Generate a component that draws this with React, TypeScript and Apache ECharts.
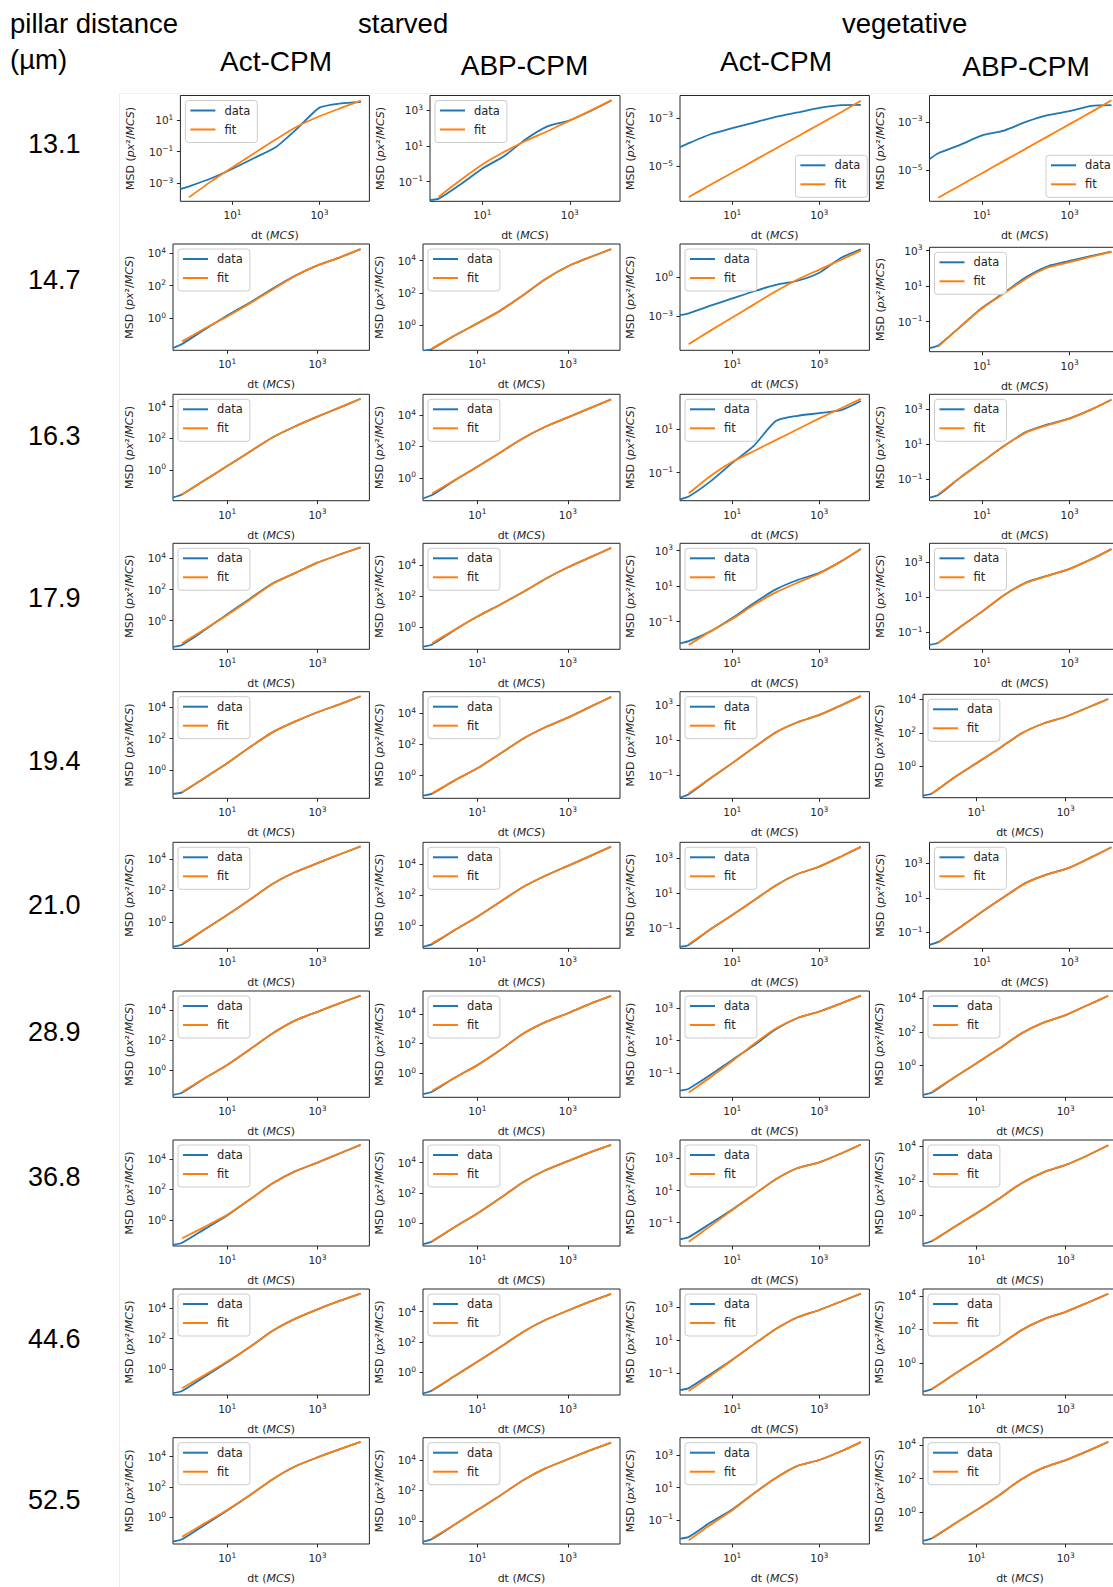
import React, { useEffect, useRef } from "react";
import * as echarts from "echarts";

// ---------------- data ----------------
const ROW_LABELS = ["13.1", "14.7", "16.3", "17.9", "19.4", "21.0", "28.9", "36.8", "44.6", "52.5"];
const COL_TITLES = ["Act-CPM", "ABP-CPM", "Act-CPM", "ABP-CPM"];
const GROUP_TITLES = ["starved", "vegetative"];
const HEADER_TITLES = ["pillar distance", "(µm)"];

// dt (MCS) sample points
const DT_DATA = [0.63, 1, 3.16, 10, 31.6, 100, 316, 1000, 3162, 9000];
const DT_FIT = [1, 3.16, 10, 31.6, 100, 316, 1000, 3162, 9000];
const X_TICKS_DT = [10, 1000];
const X_LIMITS_DT = [0.63, 14125];

// MSD values given as log10 exponents, per row: [Act starved, ABP starved, Act veg, ABP veg]
const FIT_13_1 = [
  [-3.89, -2.9, -1.98, -1.1, -0.21, 0.62, 1.25, 1.78, 2.25],
  [-1.84, -0.9, -0.03, 0.68, 1.3, 1.85, 2.43, 3.02, 3.58],
  [-6.27, -5.77, -5.27, -4.77, -4.27, -3.77, -3.27, -2.77, -2.3],
  [-6.15, -5.64, -5.13, -4.62, -4.11, -3.6, -3.09, -2.58, -2.1],
];
const DATA_13_1 = [
  [-3.38, -3.2, -2.7, -2.08, -1.4, -0.7, 0.5, 1.8, 2.07, 2.15],
  [-2.03, -1.95, -1.15, -0.26, 0.45, 1.4, 2.12, 2.45, 3.0, 3.56],
  [-4.22, -4.05, -3.68, -3.43, -3.2, -2.96, -2.78, -2.59, -2.48, -2.47],
  [-4.54, -4.3, -3.95, -3.56, -3.36, -3.0, -2.72, -2.55, -2.33, -2.3],
];
const FIT_14_7 = [
  [-1.44, -0.65, 0.1, 0.9, 1.75, 2.6, 3.25, 3.75, 4.25],
  [-1.41, -0.62, 0.13, 0.9, 1.85, 2.85, 3.65, 4.22, 4.7],
  [-5.13, -4.1, -3.1, -2.1, -1.1, -0.2, 0.55, 1.3, 2.0],
  [-2.41, -1.3, -0.25, 0.58, 1.42, 2.05, 2.35, 2.67, 2.93],
];
const DATA_14_7 = [
  [-1.85, -1.6, -0.7, 0.15, 0.95, 1.8, 2.6, 3.25, 3.75, 4.25],
  [-1.56, -1.45, -0.62, 0.13, 0.9, 1.85, 2.85, 3.65, 4.22, 4.7],
  [-2.92, -2.78, -2.2, -1.65, -1.1, -0.62, -0.3, 0.31, 1.45, 2.1],
  [-2.5, -2.35, -1.3, -0.22, 0.62, 1.5, 2.12, 2.42, 2.7, 2.95],
];
const FIT_16_3 = [
  [-1.55, -0.65, 0.25, 1.15, 2.05, 2.75, 3.37, 3.95, 4.5],
  [-1.0, -0.15, 0.7, 1.6, 2.5, 3.25, 3.85, 4.45, 5.0],
  [-1.95, -1.15, -0.5, 0.0, 0.5, 1.0, 1.5, 1.97, 2.4],
  [-1.85, -0.9, 0.0, 0.9, 1.67, 2.1, 2.47, 3.0, 3.55],
];
const DATA_16_3 = [
  [-1.73, -1.55, -0.65, 0.25, 1.15, 2.05, 2.75, 3.37, 3.95, 4.5],
  [-1.31, -1.1, -0.17, 0.7, 1.6, 2.5, 3.25, 3.85, 4.45, 5.0],
  [-2.23, -2.1, -1.4, -0.55, 0.25, 1.38, 1.62, 1.74, 1.88, 2.3],
  [-2.05, -1.9, -0.9, 0.0, 0.9, 1.7, 2.14, 2.49, 3.0, 3.55],
];
const FIT_17_9 = [
  [-1.45, -0.55, 0.37, 1.35, 2.35, 3.05, 3.72, 4.25, 4.7],
  [-1.02, -0.15, 0.69, 1.45, 2.25, 3.1, 3.85, 4.5, 5.1],
  [-2.31, -1.55, -0.85, -0.05, 0.65, 1.2, 1.72, 2.4, 3.1],
  [-1.6, -0.7, 0.17, 1.1, 1.8, 2.2, 2.6, 3.15, 3.72],
];
const DATA_17_9 = [
  [-1.67, -1.55, -0.6, 0.42, 1.4, 2.38, 3.05, 3.72, 4.25, 4.7],
  [-1.24, -1.1, -0.17, 0.69, 1.45, 2.25, 3.1, 3.85, 4.5, 5.1],
  [-2.22, -2.1, -1.55, -0.8, 0.05, 0.82, 1.35, 1.75, 2.4, 3.1],
  [-1.72, -1.6, -0.7, 0.17, 1.1, 1.82, 2.22, 2.6, 3.15, 3.72],
];
const FIT_19_4 = [
  [-1.4, -0.5, 0.43, 1.45, 2.4, 3.08, 3.68, 4.2, 4.7],
  [-1.13, -0.3, 0.47, 1.4, 2.35, 3.1, 3.72, 4.42, 5.05],
  [-1.99, -1.15, -0.29, 0.6, 1.45, 2.02, 2.44, 2.98, 3.5],
  [-1.6, -0.65, 0.2, 1.05, 1.95, 2.55, 2.95, 3.5, 4.0],
];
const DATA_19_4 = [
  [-1.52, -1.42, -0.5, 0.43, 1.45, 2.4, 3.08, 3.68, 4.2, 4.7],
  [-1.28, -1.15, -0.3, 0.47, 1.4, 2.35, 3.1, 3.72, 4.42, 5.05],
  [-2.24, -2.05, -1.15, -0.29, 0.6, 1.45, 2.02, 2.44, 2.98, 3.5],
  [-1.72, -1.6, -0.65, 0.2, 1.05, 1.95, 2.55, 2.95, 3.5, 4.0],
];
const FIT_21_0 = [
  [-1.4, -0.5, 0.43, 1.4, 2.4, 3.15, 3.73, 4.3, 4.8],
  [-1.15, -0.28, 0.59, 1.55, 2.5, 3.25, 3.9, 4.55, 5.15],
  [-1.91, -1.05, -0.24, 0.6, 1.45, 2.1, 2.52, 3.1, 3.65],
  [-1.6, -0.7, 0.2, 1.05, 1.85, 2.35, 2.75, 3.35, 3.92],
];
const DATA_21_0 = [
  [-1.59, -1.45, -0.5, 0.43, 1.4, 2.4, 3.15, 3.73, 4.3, 4.8],
  [-1.37, -1.2, -0.28, 0.59, 1.55, 2.5, 3.25, 3.9, 4.55, 5.15],
  [-2.05, -1.95, -1.05, -0.24, 0.6, 1.45, 2.1, 2.52, 3.1, 3.65],
  [-1.72, -1.55, -0.7, 0.2, 1.05, 1.87, 2.37, 2.75, 3.35, 3.92],
];
const FIT_28_9 = [
  [-1.4, -0.5, 0.38, 1.4, 2.45, 3.3, 3.88, 4.45, 4.95],
  [-1.18, -0.3, 0.55, 1.55, 2.65, 3.45, 4.05, 4.7, 5.22],
  [-2.19, -1.25, -0.25, 0.8, 1.75, 2.4, 2.79, 3.3, 3.78],
  [-1.55, -0.7, 0.14, 1.0, 1.9, 2.55, 3.0, 3.6, 4.15],
];
const DATA_28_9 = [
  [-1.59, -1.45, -0.5, 0.38, 1.4, 2.45, 3.3, 3.88, 4.45, 4.95],
  [-1.41, -1.25, -0.3, 0.55, 1.55, 2.65, 3.45, 4.05, 4.7, 5.22],
  [-2.07, -1.95, -1.1, -0.18, 0.72, 1.7, 2.4, 2.8, 3.3, 3.78],
  [-1.74, -1.6, -0.7, 0.14, 1.0, 1.9, 2.55, 3.0, 3.6, 4.15],
];
const FIT_36_8 = [
  [-1.2, -0.45, 0.34, 1.35, 2.4, 3.2, 3.78, 4.4, 4.95],
  [-1.17, -0.25, 0.65, 1.65, 2.7, 3.5, 4.1, 4.7, 5.18],
  [-2.18, -1.2, -0.21, 0.75, 1.7, 2.4, 2.75, 3.3, 3.86],
  [-1.52, -0.7, 0.1, 0.95, 1.85, 2.5, 2.93, 3.5, 4.08],
];
const DATA_36_8 = [
  [-1.64, -1.5, -0.6, 0.3, 1.35, 2.4, 3.2, 3.78, 4.4, 4.95],
  [-1.38, -1.2, -0.25, 0.65, 1.65, 2.7, 3.5, 4.1, 4.7, 5.18],
  [-2.03, -1.9, -1.05, -0.18, 0.75, 1.7, 2.4, 2.75, 3.3, 3.86],
  [-1.69, -1.52, -0.7, 0.1, 0.95, 1.85, 2.5, 2.93, 3.5, 4.08],
];
const FIT_44_6 = [
  [-1.26, -0.4, 0.49, 1.45, 2.5, 3.3, 3.93, 4.5, 4.97],
  [-1.17, -0.25, 0.7, 1.65, 2.65, 3.45, 4.08, 4.68, 5.18],
  [-2.08, -1.15, -0.19, 0.78, 1.7, 2.42, 2.86, 3.38, 3.86],
  [-1.52, -0.65, 0.2, 1.05, 1.95, 2.6, 3.05, 3.6, 4.12],
];
const DATA_44_6 = [
  [-1.59, -1.45, -0.5, 0.45, 1.45, 2.5, 3.3, 3.93, 4.5, 4.97],
  [-1.39, -1.2, -0.25, 0.7, 1.65, 2.65, 3.45, 4.08, 4.68, 5.18],
  [-2.02, -1.9, -1.05, -0.17, 0.78, 1.7, 2.42, 2.86, 3.38, 3.86],
  [-1.68, -1.52, -0.65, 0.2, 1.05, 1.95, 2.6, 3.05, 3.6, 4.12],
];
const FIT_52_5 = [
  [-1.28, -0.4, 0.48, 1.45, 2.5, 3.35, 3.95, 4.5, 4.97],
  [-1.15, -0.25, 0.71, 1.65, 2.65, 3.45, 4.05, 4.65, 5.15],
  [-2.26, -1.3, -0.4, 0.65, 1.6, 2.35, 2.71, 3.25, 3.82],
  [-1.55, -0.7, 0.13, 1.0, 1.95, 2.65, 3.1, 3.65, 4.18],
];
const DATA_52_5 = [
  [-1.61, -1.45, -0.5, 0.45, 1.45, 2.5, 3.35, 3.95, 4.5, 4.97],
  [-1.38, -1.2, -0.25, 0.71, 1.65, 2.65, 3.45, 4.05, 4.65, 5.15],
  [-2.16, -2.05, -1.15, -0.35, 0.65, 1.6, 2.35, 2.71, 3.25, 3.82],
  [-1.71, -1.55, -0.7, 0.13, 1.0, 1.95, 2.65, 3.1, 3.65, 4.18],
];

// y-axis limits (log10 MSD) per panel
const YLIM_13_1 = [[-4.15, 2.57], [-2.1, 3.84], [-6.45, -2.08], [-6.3, -1.9]];
const YLIM_14_7 = [[-1.99, 4.57], [-1.53, 5.02], [-5.6, 2.5], [-2.7, 3.19]];
const YLIM_16_3 = [[-1.94, 4.78], [-1.46, 5.32], [-2.29, 2.61], [-2.22, 3.86]];
const YLIM_17_9 = [[-1.83, 4.96], [-1.41, 5.39], [-2.56, 3.42], [-1.97, 4.05]];
const YLIM_19_4 = [[-1.8, 4.99], [-1.45, 5.38], [-2.28, 3.75], [-1.85, 4.28]];
const YLIM_21_0 = [[-1.69, 5.06], [-1.47, 5.43], [-2.14, 3.91], [-1.92, 4.21]];
const YLIM_28_9 = [[-1.75, 5.25], [-1.62, 5.55], [-2.48, 4.06], [-1.88, 4.43]];
const YLIM_36_8 = [[-1.71, 5.27], [-1.5, 5.5], [-2.45, 4.14], [-1.81, 4.39]];
const YLIM_44_6 = [[-1.71, 5.27], [-1.5, 5.5], [-2.32, 4.14], [-1.88, 4.4]];
const YLIM_52_5 = [[-1.76, 5.25], [-1.53, 5.47], [-2.49, 4.09], [-1.89, 4.43]];

// y-axis tick exponents per panel
const YTICK_13_1 = [[1, -1, -3], [3, 1, -1], [-3, -5], [-3, -5]];
const YTICK_14_7 = [[4, 2, 0], [4, 2, 0], [0, -3], [3, 1, -1]];
const YTICK_16_3 = [[4, 2, 0], [4, 2, 0], [1, -1], [3, 1, -1]];
const YTICK_17_9 = [[4, 2, 0], [4, 2, 0], [3, 1, -1], [3, 1, -1]];
const YTICK_19_4 = [[4, 2, 0], [4, 2, 0], [3, 1, -1], [4, 2, 0]];
const YTICK_21_0 = [[4, 2, 0], [4, 2, 0], [3, 1, -1], [3, 1, -1]];
const YTICK_28_9 = [[4, 2, 0], [4, 2, 0], [3, 1, -1], [4, 2, 0]];
const YTICK_36_8 = [[4, 2, 0], [4, 2, 0], [3, 1, -1], [4, 2, 0]];
const YTICK_44_6 = [[4, 2, 0], [4, 2, 0], [3, 1, -1], [4, 2, 0]];
const YTICK_52_5 = [[4, 2, 0], [4, 2, 0], [3, 1, -1], [4, 2, 0]];

const ROWS = [
  { fit: FIT_13_1, data: DATA_13_1, ylim: YLIM_13_1, yticks: YTICK_13_1 },
  { fit: FIT_14_7, data: DATA_14_7, ylim: YLIM_14_7, yticks: YTICK_14_7 },
  { fit: FIT_16_3, data: DATA_16_3, ylim: YLIM_16_3, yticks: YTICK_16_3 },
  { fit: FIT_17_9, data: DATA_17_9, ylim: YLIM_17_9, yticks: YTICK_17_9 },
  { fit: FIT_19_4, data: DATA_19_4, ylim: YLIM_19_4, yticks: YTICK_19_4 },
  { fit: FIT_21_0, data: DATA_21_0, ylim: YLIM_21_0, yticks: YTICK_21_0 },
  { fit: FIT_28_9, data: DATA_28_9, ylim: YLIM_28_9, yticks: YTICK_28_9 },
  { fit: FIT_36_8, data: DATA_36_8, ylim: YLIM_36_8, yticks: YTICK_36_8 },
  { fit: FIT_44_6, data: DATA_44_6, ylim: YLIM_44_6, yticks: YTICK_44_6 },
  { fit: FIT_52_5, data: DATA_52_5, ylim: YLIM_52_5, yticks: YTICK_52_5 },
];

// ---------------- layout ----------------
const W = 1113;
const H = 1587;
const ROW_TOP = [95.5, 244, 394.3, 543.3, 691.7, 842.3, 991, 1140, 1289, 1437.7];
const ROW_BOTTOM = [201.3, 350.3, 500.7, 649.3, 798.3, 948.3, 1097.3, 1246, 1395, 1544];
const COL_LEFT = [173, 423, 680, 929.5];
const COL_RIGHT = [369.4, 620, 869.4, 1120];
const ROW_LABEL_Y = [143.7, 280, 436, 598, 761, 904.6, 1032, 1177, 1339, 1500];
const COL_TITLE_POS = [[276, 61], [524.5, 65], [776, 61], [1026, 66]];

function panelBox(r: number, c: number) {
  let L = COL_LEFT[c];
  let R = COL_RIGHT[c];
  let T = ROW_TOP[r];
  let B = ROW_BOTTOM[r];
  if (r === 0 && c === 0) L = 180.4;
  if (r === 0 && c === 1) L = 430;
  if (c === 3 && [4, 6, 7, 8, 9].includes(r)) {
    L = 923;
    R = 1117;
  }
  if (r === 1 && c === 3) {
    T = 247.3;
    B = 351.7;
  }
  if (r === 4 && c === 3) {
    T = 694.3;
    B = 797.7;
  }
  return { L, R, T, B };
}

const BLUE = "#1f77b4";
const ORANGE = "#ff7f0e";
const INK = "#262626";
const pow10 = (v: number) => {
  const e = Math.round(v);
  const s = e < 0 ? "\u2212" + String(-e) : String(e);
  return "{b|10}{s|" + s + "}";
};
const tickRich = {
  b: { fontSize: 10.5, fontFamily: "DejaVu Sans", color: INK, lineHeight: 14 },
  s: { fontSize: 7.5, fontFamily: "DejaVu Sans", color: INK, lineHeight: 6, verticalAlign: "top" },
};

const richAxis = {
  n: { fontSize: 11, fontFamily: "DejaVu Sans", color: INK },
  i: { fontSize: 11, fontFamily: "DejaVu Sans", fontStyle: "italic", color: INK },
};

function buildOption() {
  const grids: any[] = [];
  const xAxes: any[] = [];
  const yAxes: any[] = [];
  const series: any[] = [];
  const legends: any[] = [];
  const graphics: any[] = [];
  const xMin = Math.log10(X_LIMITS_DT[0]);
  const xMax = Math.log10(X_LIMITS_DT[1]);
  const xTicks = X_TICKS_DT.map((v) => Math.log10(v));

  ROWS.forEach((row, r) => {
    for (let c = 0; c < 4; c++) {
      const idx = r * 4 + c;
      const { L, R, T, B } = panelBox(r, c);
      grids.push({
        left: L,
        top: T,
        width: R - L,
        height: B - T,
        show: true,
        borderColor: INK,
        borderWidth: 1,
        backgroundColor: "transparent",
        containLabel: false,
        outerBoundsMode: "none",
      });
      xAxes.push({
        type: "value",
        gridIndex: idx,
        position: "bottom",
        min: xMin,
        max: xMax,
        axisLine: { show: false, onZero: false },
        splitLine: { show: false },
        axisTick: { show: true, customValues: xTicks, length: 3.5, lineStyle: { color: INK, width: 1 } },
        axisLabel: {
          show: true,
          customValues: xTicks,
          formatter: pow10,
          margin: 7,
          rich: tickRich,
        },
        name: "{n|dt (}{i|MCS}{n|)}",
        nameLocation: "middle",
        nameGap: 29,
        nameTextStyle: { fontSize: 11, fontFamily: "DejaVu Sans", color: INK, rich: richAxis },
      });
      const yt = row.yticks[c];
      const hasNeg = yt.some((v) => v < 0);
      yAxes.push({
        type: "value",
        gridIndex: idx,
        position: "left",
        min: row.ylim[c][0],
        max: row.ylim[c][1],
        axisLine: { show: false, onZero: false },
        splitLine: { show: false },
        axisTick: { show: true, customValues: yt, length: 3.5, lineStyle: { color: INK, width: 1 } },
        axisLabel: {
          show: true,
          customValues: yt,
          formatter: pow10,
          margin: 7,
          rich: tickRich,
        },
        name: "{n|MSD (}{i|px}{n|²/}{i|MCS}{n|)}",
        nameLocation: "middle",
        nameRotate: 90,
        nameGap: hasNeg ? 44 : 38,
        nameTextStyle: { fontSize: 11, fontFamily: "DejaVu Sans", color: INK, rich: richAxis },
      });
      series.push({
        type: "line",
        name: "data",
        xAxisIndex: idx,
        yAxisIndex: idx,
        data: DT_DATA.map((d, i) => [Math.log10(d), row.data[c][i]]),
        showSymbol: false,
        symbol: "none",
        smooth: 0.2,
        color: BLUE,
        itemStyle: { color: BLUE },
        lineStyle: { color: BLUE, width: 1.8 },
        z: 2,
      });
      series.push({
        type: "line",
        name: "fit",
        xAxisIndex: idx,
        yAxisIndex: idx,
        data: DT_FIT.map((d, i) => [Math.log10(d), row.fit[c][i]]),
        showSymbol: false,
        symbol: "none",
        smooth: 0.2,
        color: ORANGE,
        itemStyle: { color: ORANGE },
        lineStyle: { color: ORANGE, width: 1.8 },
        z: 3,
      });
      const lowerRight = r === 0 && c >= 2;
      legends.push({
        show: true,
        orient: "vertical",
        left: lowerRight ? R - 74 : L + 5,
        top: lowerRight ? B - 46 : T + 5,
        data: ["data", "fit"],
        icon: "rect",
        itemWidth: 25,
        itemHeight: 2,
        itemGap: 7,
        padding: [4, 7, 7, 5],
        backgroundColor: "rgba(255,255,255,0.8)",
        borderColor: "#cccccc",
        borderWidth: 1,
        borderRadius: 3,
        selectedMode: false,
        textStyle: { fontSize: 11.5, fontFamily: "DejaVu Sans", color: INK, padding: [0, 0, 0, 4] },
        z: 10,
      });
    }
  });

  // faint frame of the pasted panel area
  graphics.push({
    type: "line",
    shape: { x1: 119.5, y1: 93, x2: 119.5, y2: H },
    style: { stroke: "#ececec", lineWidth: 1 },
    silent: true,
  });
  graphics.push({
    type: "line",
    shape: { x1: 119.5, y1: 93.5, x2: W, y2: 93.5 },
    style: { stroke: "#f2f2f2", lineWidth: 1 },
    silent: true,
  });

  const textEl = (text: string, x: number, y: number, size: number, align: string) => ({
    type: "text",
    x,
    y,
    silent: true,
    style: {
      text,
      fontSize: size,
      fontFamily: "Liberation Sans",
      fill: "#000",
      textAlign: align,
      align,
      textVerticalAlign: "middle",
      verticalAlign: "middle",
    },
  });
  graphics.push(textEl(HEADER_TITLES[0], 10, 23, 27.5, "left"));
  graphics.push(textEl(HEADER_TITLES[1], 10, 59, 27.5, "left"));
  graphics.push(textEl(GROUP_TITLES[0], 358, 23, 27.5, "left"));
  graphics.push(textEl(GROUP_TITLES[1], 842, 23, 27.5, "left"));
  COL_TITLES.forEach((t, c) => {
    graphics.push(textEl(t, COL_TITLE_POS[c][0], COL_TITLE_POS[c][1], 28, "center"));
  });
  ROW_LABELS.forEach((t, r) => {
    graphics.push(textEl(t, 28, ROW_LABEL_Y[r], 27, "left"));
  });

  return {
    animation: false,
    backgroundColor: "#ffffff",
    grid: grids,
    xAxis: xAxes,
    yAxis: yAxes,
    legend: legends,
    series,
    graphic: { elements: graphics },
  };
}

export default function App() {
  const ref = useRef<HTMLDivElement>(null);
  useEffect(() => {
    if (!ref.current) return;
    const chart = echarts.init(ref.current, undefined, { renderer: "svg", width: W, height: H });
    chart.setOption(buildOption() as any);
    return () => chart.dispose();
  }, []);
  return (
    <div
      ref={ref}
      style={{ position: "absolute", left: 0, top: 0, width: W, height: H, background: "#fff" }}
    />
  );
}
